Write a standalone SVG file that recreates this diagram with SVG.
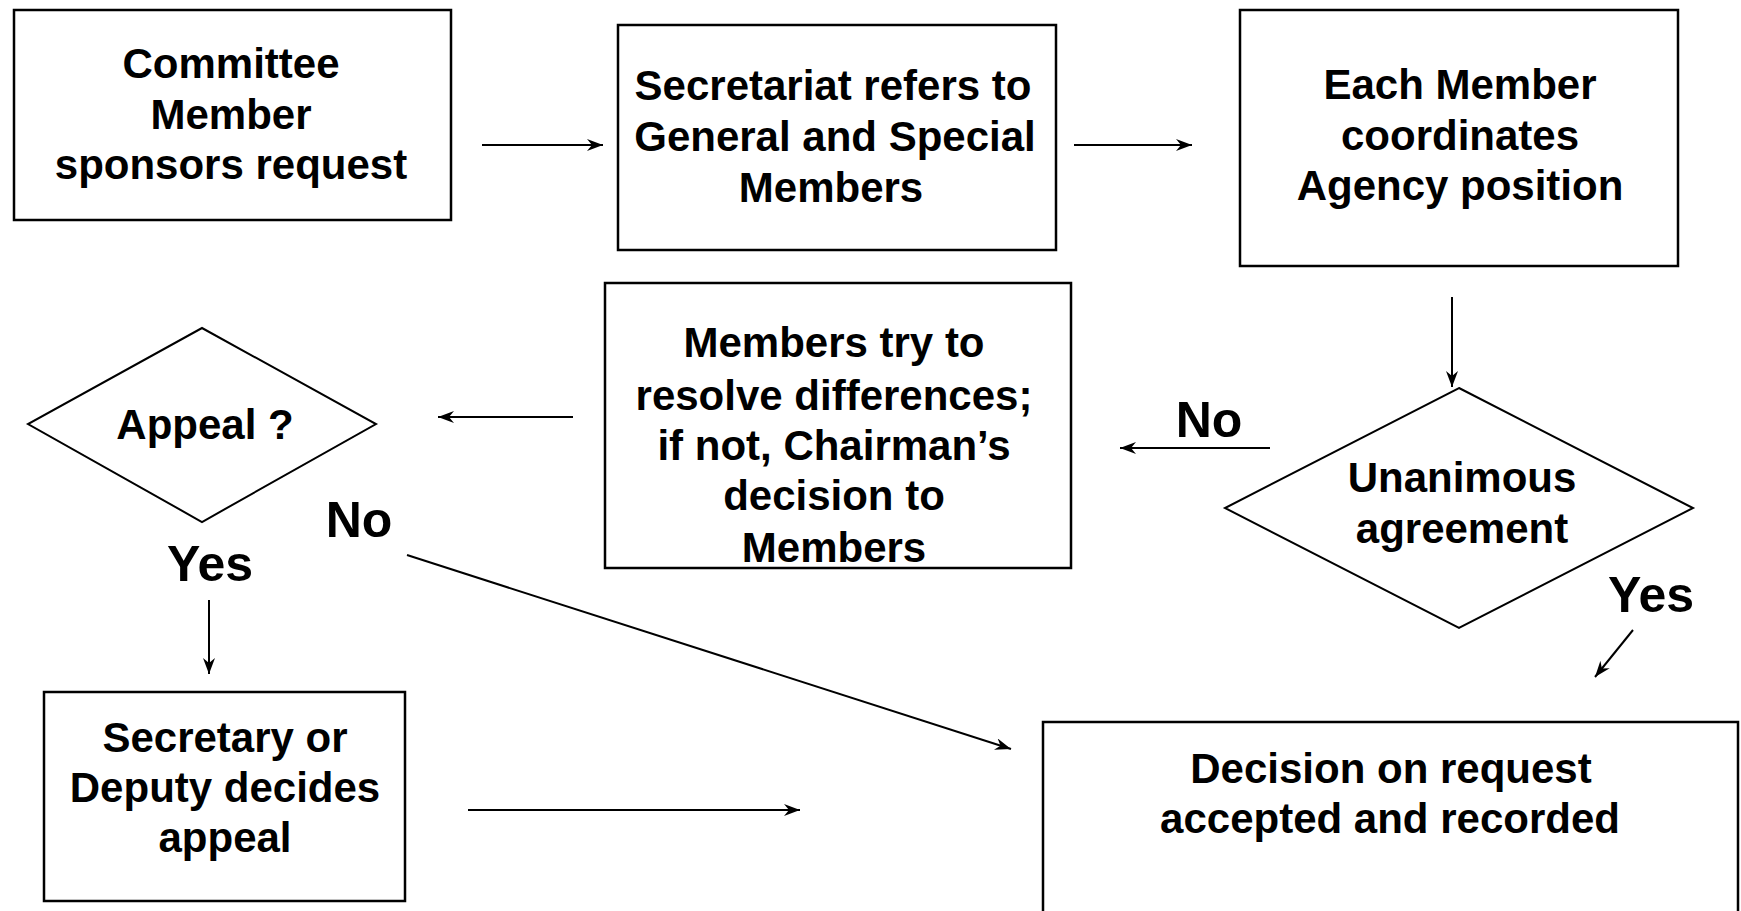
<svg xmlns="http://www.w3.org/2000/svg" width="1741" height="911" viewBox="0 0 1741 911">
  <style>
    .box { fill: #ffffff; stroke: #000000; stroke-width: 2.5; }
    .dia { fill: #ffffff; stroke: #000000; stroke-width: 2; }
    .lbl { font-family: "Liberation Sans", Arial, Helvetica, sans-serif; font-weight: bold; font-size: 42px; fill: #000000; text-anchor: middle; }
    .big { font-family: "Liberation Sans", Arial, Helvetica, sans-serif; font-weight: bold; font-size: 50px; fill: #000000; text-anchor: middle; }
    .edge { fill: none; stroke: #000000; stroke-width: 2; marker-end: url(#arrow); }
  </style>
  <defs>
    <marker id="arrow" viewBox="0 0 16 12" refX="16" refY="6" markerWidth="16" markerHeight="12" markerUnits="userSpaceOnUse" orient="auto">
      <path d="M0,0 L16,6 L0,12 L5,6 z" fill="#000000"/>
    </marker>
  </defs>
  <rect width="1741" height="911" fill="#ffffff"/>

  <g id="sponsor">
    <rect class="box" x="14" y="10" width="437" height="210"/>
    <text class="lbl" x="231" y="78">Committee</text>
    <text class="lbl" x="231" y="129">Member</text>
    <text class="lbl" x="231" y="179">sponsors request</text>
  </g>

  <g id="secretariat">
    <rect class="box" x="618" y="25" width="438" height="225"/>
    <text class="lbl" x="833" y="100">Secretariat refers to</text>
    <text class="lbl" x="835" y="151">General and Special</text>
    <text class="lbl" x="831" y="202">Members</text>
  </g>

  <g id="coordinate">
    <rect class="box" x="1240" y="10" width="438" height="256"/>
    <text class="lbl" x="1460" y="99">Each Member</text>
    <text class="lbl" x="1460" y="150">coordinates</text>
    <text class="lbl" x="1460" y="200">Agency position</text>
  </g>

  <g id="unanimous">
    <polygon class="dia" points="1459,388 1693,508 1459,628 1225,508"/>
    <text class="lbl" x="1462" y="492">Unanimous</text>
    <text class="lbl" x="1462" y="543">agreement</text>
  </g>

  <g id="resolve">
    <rect class="box" x="605" y="283" width="466" height="285"/>
    <text class="lbl" x="834" y="357">Members try to</text>
    <text class="lbl" x="834" y="410">resolve differences;</text>
    <text class="lbl" x="834" y="460">if not, Chairman’s</text>
    <text class="lbl" x="834" y="510">decision to</text>
    <text class="lbl" x="834" y="562">Members</text>
  </g>

  <g id="appeal">
    <polygon class="dia" points="202,328 376,424 202,522 28,424"/>
    <text class="lbl" x="205" y="439">Appeal ?</text>
  </g>

  <g id="deputy">
    <rect class="box" x="44" y="692" width="361" height="209"/>
    <text class="lbl" x="225" y="752">Secretary or</text>
    <text class="lbl" x="225" y="802">Deputy decides</text>
    <text class="lbl" x="225" y="852">appeal</text>
  </g>

  <g id="recorded">
    <rect class="box" x="1043" y="722" width="695" height="230"/>
    <text class="lbl" x="1391" y="783">Decision on request</text>
    <text class="lbl" x="1390" y="833">accepted and recorded</text>
  </g>

  <g id="connectors">
    <line class="edge" x1="482" y1="145" x2="603" y2="145"/>
    <line class="edge" x1="1074" y1="145" x2="1192" y2="145"/>
    <line class="edge" x1="1452" y1="297" x2="1452" y2="387"/>
    <line class="edge" x1="1270" y1="448" x2="1120" y2="448"/>
    <line class="edge" x1="573" y1="417" x2="438" y2="417"/>
    <line class="edge" x1="1633" y1="630" x2="1595" y2="677"/>
    <line class="edge" x1="209" y1="600" x2="209" y2="674"/>
    <line class="edge" x1="407" y1="555" x2="1011" y2="749"/>
    <line class="edge" x1="468" y1="810" x2="800" y2="810"/>
    <text class="big" x="1209" y="437">No</text>
    <text class="big" x="1651" y="612">Yes</text>
    <text class="big" x="359" y="537">No</text>
    <text class="big" x="210" y="581">Yes</text>
  </g>
</svg>
